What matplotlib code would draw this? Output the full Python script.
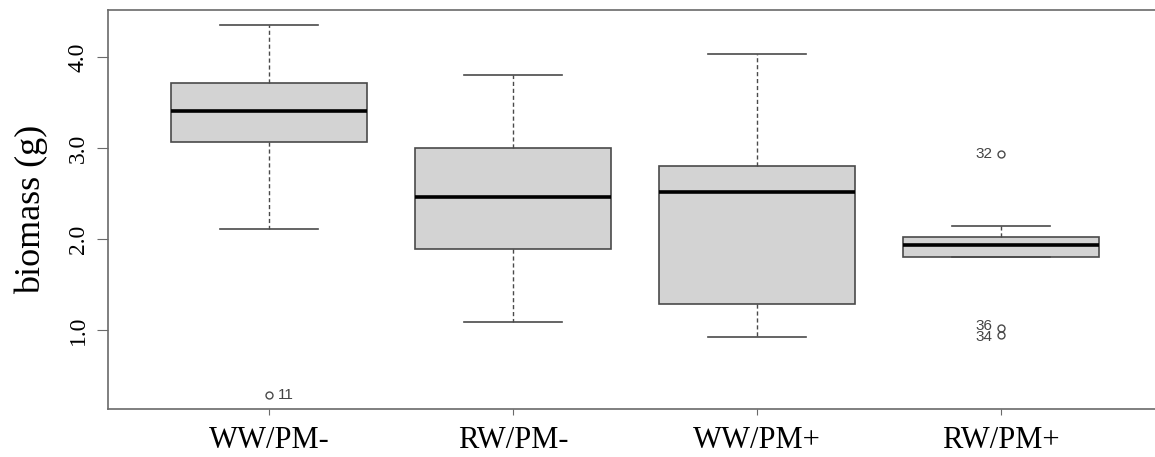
import matplotlib
matplotlib.use("Agg")
import matplotlib.pyplot as plt

# Groups and box statistics
groups = ["WW/PM-", "RW/PM-", "WW/PM+", "RW/PM+"]
whisker_low = [2.11, 1.09, 0.92, 1.80]
q1 = [3.07, 1.89, 1.29, 1.80]
medians = [3.41, 2.46, 2.52, 1.94]
q3 = [3.72, 3.00, 2.80, 2.02]
whisker_high = [4.36, 3.81, 4.04, 2.14]

# Outliers: (group index, value, label)
outlier_group = [0, 3, 3, 3]
outlier_value = [0.285, 2.94, 1.02, 0.945]
outlier_label = ["11", "32", "36", "34"]

stats = []
for i, name in enumerate(groups):
    fl = [v for g, v in zip(outlier_group, outlier_value) if g == i]
    stats.append(dict(label=name, whislo=whisker_low[i], q1=q1[i], med=medians[i],
                      q3=q3[i], whishi=whisker_high[i], fliers=fl))

fig = plt.figure(figsize=(11.55, 4.57), dpi=100)
# right edge of the axes lies just outside the picture, as in the reference
ax = fig.add_axes([108 / 1155, 48 / 457, 1054 / 1155, 399 / 457])

positions = list(range(1, len(groups) + 1))
ax.bxp(stats, positions=positions, widths=0.8, patch_artist=True,
       boxprops=dict(facecolor="#d3d3d3", edgecolor="#4a4a4a", linewidth=1.2),
       medianprops=dict(color="black", linewidth=2.6),
       whiskerprops=dict(color="#4a4a4a", linewidth=1.0, linestyle=(0, (3, 2))),
       capprops=dict(color="#4a4a4a", linewidth=1.2),
       flierprops=dict(marker="o", markersize=5, markerfacecolor="none",
                       markeredgecolor="#4a4a4a", markeredgewidth=1.0),
       capwidths=0.4)

# outlier labels
for g, v, lab in zip(outlier_group, outlier_value, outlier_label):
    x = positions[g]
    if lab == "11":
        ax.text(x + 0.035, v, lab, ha="left", va="center", fontsize=11,
                family="Liberation Sans", color="#444444")
    else:
        dy = 0.02 if lab == "36" else (-0.02 if lab == "34" else 0)
        ax.text(x - 0.035, v + dy, lab, ha="right", va="center", fontsize=11,
                family="Liberation Sans", color="#444444")

ax.set_xlim(0.34, 4.66)
ax.set_ylim(0.131, 4.52)
ax.set_yticks([1.0, 2.0, 3.0, 4.0])
ax.set_yticklabels(["1.0", "2.0", "3.0", "4.0"], rotation=90, va="center",
                   family="Liberation Serif", fontsize=17)
ax.set_xticks(positions)
ax.set_xticklabels(groups, family="Liberation Serif", fontsize=22)
ax.set_ylabel("biomass (g)", family="Liberation Serif", fontsize=26, labelpad=14)

for s in ax.spines.values():
    s.set_color("#6a6a6a")
    s.set_linewidth(1.2)
ax.tick_params(axis="y", length=8, color="#6a6a6a", pad=6)
ax.tick_params(axis="x", length=4, color="#6a6a6a", pad=8)

fig.savefig("out.png", dpi=100)
